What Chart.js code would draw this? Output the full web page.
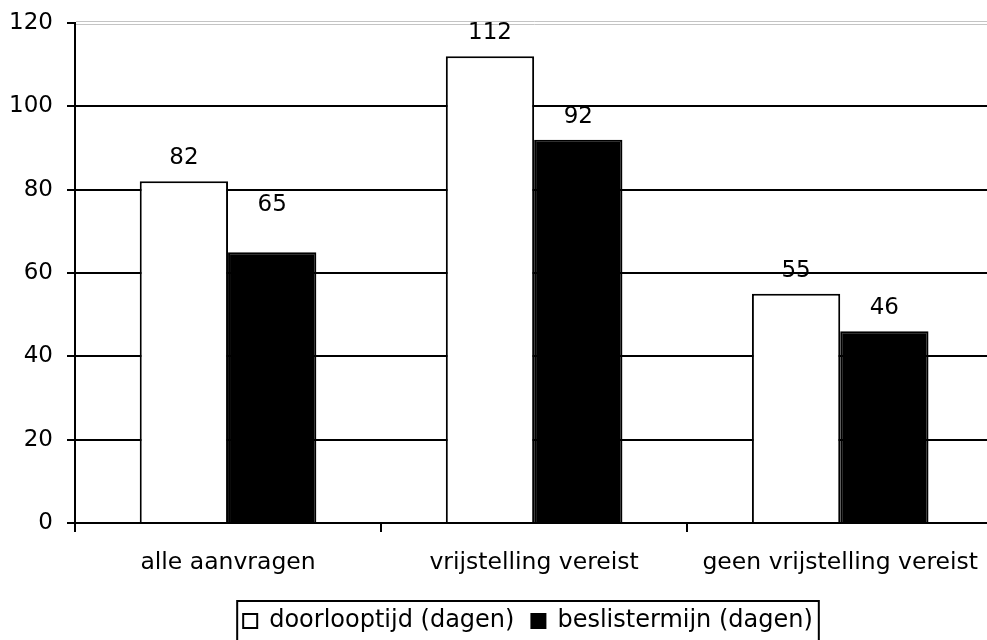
<!DOCTYPE html>
<html>
<head>
<meta charset="utf-8">
<script src="https://cdn.jsdelivr.net/npm/chart.js@4/dist/chart.umd.min.js"></script>
<style>
  html, body { margin: 0; padding: 0; background: #fff; overflow: hidden; }
  #wrap { width: 995px; height: 646px; }
</style>
</head>
<body>
<div id="wrap"><canvas id="chart" width="995" height="646"></canvas></div>
<script>
// Categories and series (days)
const categories = ['alle aanvragen', 'vrijstelling vereist', 'geen vrijstelling vereist'];
const seriesNames = ['doorlooptijd (dagen)', 'beslistermijn (dagen)'];
const doorlooptijd = [82, 112, 55];
const beslistermijn = [65, 92, 46];
// Value axis
const yMin = 0;
const yMax = 120;
const yStep = 20;

const FAMILY = '"DejaVu Sans", Verdana, sans-serif';
const FONT = { family: FAMILY, size: 23.5 };
const LEGEND_FONT = { family: FAMILY, size: 24 };
const TICK_FONT = { family: FAMILY, size: 23 };
const LABEL_FONT_SIZE = 23;
const LEGEND_HEIGHT = 54;

// Value labels above each bar; one label sits a little higher than the rest
const valueLabels = {
  id: 'valueLabels',
  afterDatasetsDraw(chart, args, opts) {
    const ctx = chart.ctx;
    ctx.save();
    ctx.font = `${LABEL_FONT_SIZE}px ${FAMILY}`;
    ctx.fillStyle = '#000';
    ctx.textAlign = 'center';
    ctx.textBaseline = 'middle';
    chart.data.datasets.forEach((ds, di) => {
      chart.getDatasetMeta(di).data.forEach((bar, i) => {
        const lift = (opts.extraLift[di] && opts.extraLift[di][i]) || 0;
        ctx.fillText(String(ds.data[i]), bar.x, bar.y - opts.gap - lift);
      });
    });
    ctx.restore();
  }
};

// Light double rule along the top of the plot
const topRule = {
  id: 'topRule',
  beforeDatasetsDraw(chart) {
    const { ctx, chartArea } = chart;
    const y = Math.round(chart.scales.y.getPixelForValue(yMax));
    ctx.save();
    ctx.strokeStyle = '#c4c4c4';
    ctx.lineWidth = 1;
    [y - 1.5, y + 1.5].forEach(yy => {
      ctx.beginPath();
      ctx.moveTo(chartArea.left + 1, yy);
      ctx.lineTo(chartArea.right, yy);
      ctx.stroke();
    });
    ctx.restore();
  }
};

// Legend: fixed band height, moved to its centre line, framed with a black border
const legendFrame = {
  id: 'legendFrame',
  afterInit(chart) {
    const lg = chart.legend;
    if (!lg) return;
    const fit = lg.fit.bind(lg);
    lg.fit = function () {
      fit();
      this.height = LEGEND_HEIGHT;
    };
  },
  afterLayout(chart, args, opts) {
    const lg = chart.legend;
    const shift = opts.centerX - (lg.left + lg.right) / 2;
    lg.left += shift;
    lg.right += shift;
  },
  afterDraw(chart, args, opts) {
    const boxes = chart.legend.legendHitBoxes;
    if (!boxes || !boxes.length) return;
    const first = boxes[0];
    const last = boxes[boxes.length - 1];
    const l = first.left - opts.margin;
    const r = last.left + last.width + opts.margin;
    const t = first.top - opts.vmargin;
    const b = first.top + first.height + opts.vmargin;
    const ctx = chart.ctx;
    ctx.save();
    ctx.strokeStyle = '#000';
    ctx.lineWidth = 2;
    ctx.strokeRect(l, t, r - l, b - t);
    ctx.restore();
  }
};

new Chart(document.getElementById('chart'), {
  type: 'bar',
  data: {
    labels: categories,
    datasets: [
      {
        label: seriesNames[0],
        data: doorlooptijd,
        backgroundColor: '#ffffff',
        borderColor: '#000000',
        borderWidth: 2,
        borderSkipped: 'start'
      },
      {
        label: seriesNames[1],
        data: beslistermijn,
        backgroundColor: '#000000',
        borderColor: '#000000',
        borderWidth: 2,
        borderSkipped: 'start'
      }
    ]
  },
  options: {
    responsive: false,
    animation: false,
    devicePixelRatio: 1,
    categoryPercentage: 0.577,
    barPercentage: 1.0,
    layout: { padding: { top: 23, left: 0, right: 0, bottom: 0 } },
    scales: {
      x: {
        grid: {
          offset: true,
          drawOnChartArea: false,
          drawTicks: true,
          tickLength: 9,
          color: '#000',
          lineWidth: 2
        },
        border: { color: '#000', width: 2 },
        ticks: { color: '#000', font: FONT, padding: 17, maxRotation: 0 },
        afterFit(scale) { scale.height = 69; }
      },
      y: {
        min: yMin,
        max: yMax,
        grid: {
          color: c => (c.tick && c.tick.value === yMax) ? 'rgba(0,0,0,0)' : '#000',
          tickColor: '#000',
          lineWidth: 2,
          tickLength: 8
        },
        border: { color: '#000', width: 2 },
        ticks: { stepSize: yStep, color: '#000', font: TICK_FONT, padding: 14 },
        afterFit(scale) {
          scale.width = 75;
          scale.paddingTop = 0;
          scale.paddingBottom = 0;
        }
      }
    },
    plugins: {
      legend: {
        position: 'bottom',
        labels: {
          color: '#000',
          font: LEGEND_FONT,
          boxWidth: 14,
          boxHeight: 14,
          padding: 17
        }
      },
      tooltip: { enabled: false },
      valueLabels: { gap: 23, extraLift: [[0, 0, 0], [24, 0, 0]] },
      legendFrame: { centerX: 528, margin: 6, vmargin: 8 }
    }
  },
  plugins: [topRule, valueLabels, legendFrame]
});
</script>
</body>
</html>
